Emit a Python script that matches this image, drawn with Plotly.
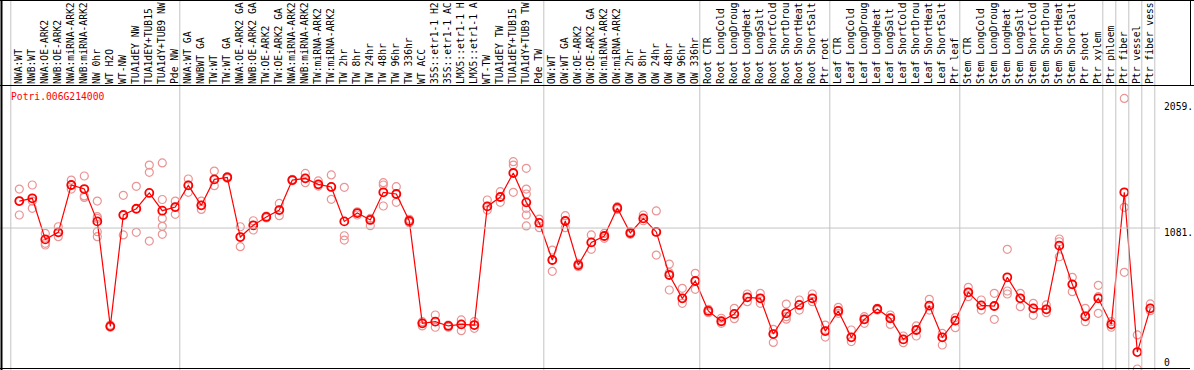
import plotly.graph_objects as go

gene_id = "Potri.006G214000"

categories = [
    "NWA:WT", "NWB:WT", "NWA:OE-ARK2", "NWB:OE-ARK2", "NWA:miRNA-ARK2", "NWB:miRNA-ARK2",
    "NW 0hr", "WT H2O", "WT-NW", "TUA1dEY NW", "TUA1dEY+TUB15", "TUA1dY+TUB9 NW", "Pde NW",
    "NWA:WT GA", "NWBWT GA", "TW:WT", "TW:WT GA", "NWA:OE-ARK2 GA", "NWB:OE-ARK2 GA",
    "TW:OE-ARK2", "TW:OE-ARK2 GA", "NWA:miRNA-ARK2", "NWB:miRNA-ARK2", "TW:miRNA-ARK2",
    "TW:miRNA-ARK2", "TW 2hr", "TW 8hr", "TW 24hr", "TW 48hr", "TW 96hr", "TW 336hr",
    "WT ACC", "35S::etr1-1 H2", "35S::etr1-1 AC", "LMX5::etr1-1 H", "LMX5::etr1-1 A",
    "WT-TW", "TUA1dEY TW", "TUA1dEY+TUB15", "TUA1dY+TUB9 TW", "Pde TW",
    "OW:WT", "OW:WT GA", "OW:OE-ARK2", "OW:OE-ARK2 GA", "OW:miRNA-ARK2", "OW:miRNA-ARK2",
    "OW 2hr", "OW 8hr", "OW 24hr", "OW 48hr", "OW 96hr", "OW 336hr",
    "Root CTR", "Root LongCold", "Root LongDroug", "Root LongHeat", "Root LongSalt",
    "Root ShortCold", "Root ShortDrou", "Root ShortHeat", "Root ShortSalt", "Ptr root",
    "Leaf CTR", "Leaf LongCold", "Leaf LongDroug", "Leaf LongHeat", "Leaf LongSalt",
    "Leaf ShortCold", "Leaf ShortDrou", "Leaf ShortHeat", "Leaf ShortSalt", "Ptr leaf",
    "Stem CTR", "Stem LongCold", "Stem LongDroug", "Stem LongHeat", "Stem LongSalt",
    "Stem ShortCold", "Stem ShortDrou", "Stem ShortHeat", "Stem ShortSalt", "Ptr shoot",
    "Ptr xylem", "Ptr phloem", "Ptr fiber", "Ptr vessel", "Ptr fiber vess",
]

mean_values = [
    1288, 1309, 994, 1048, 1411, 1380, 1132, 327, 1181, 1229, 1350, 1214, 1242,
    1408, 1255, 1454, 1470, 1012, 1102, 1166, 1219, 1449, 1462, 1416, 1396, 1132,
    1196, 1143, 1355, 1342, 1135, 350, 363, 330, 342, 337, 1247, 1319, 1503, 1278, 1120,
    836, 1135, 797, 971, 1020, 1235, 1043, 1155, 1051, 721, 542, 675,
    445, 366, 422, 550, 542, 268, 427, 491, 542, 291,
    445, 243, 381, 460, 389, 227, 299, 486, 243, 371,
    588, 488, 483, 703, 542, 465, 458, 946, 649, 404, 542,
    342, 1355, 130, 465,
]

replicate_values = [
    [1380, 1181, 1288], [1411, 1232, 1288], [1040, 964, 951], [1091, 1015, 1048],
    [1449, 1380, 1411], [1480, 1327, 1316], [1288, 1168, 1155, 1053, 1015],
    [337, 327, 320], [1332, 1028, 1181], [1401, 1048, 1229], [1564, 1508, 981],
    [1580, 1300, 1155, 1094, 1033], [1288, 1186, 1242],
    [1457, 1355, 1411], [1288, 1224, 1255], [1518, 1406, 1454], [1475, 1470, 1462],
    [1091, 938, 1012], [1137, 1066, 1102], [1173, 1166, 1158], [1270, 1176, 1219],
    [1449, 1444, 1454], [1500, 1429, 1462], [1442, 1403, 1416], [1488, 1301, 1396],
    [1393, 1022, 989], [1181, 1196, 1206], [1099, 1143, 1155], [1429, 1411, 1250],
    [1398, 1278, 1342], [1148, 1135, 1122], [363, 330, 350], [414, 320, 363],
    [320, 330, 337], [376, 294, 342], [363, 312, 337], [1296, 1219, 1247],
    [1360, 1278, 1319], [1590, 1564, 1355], [1539, 1380, 1342, 1232, 1181, 1097],
    [1150, 1084, 1120],
    [912, 749, 836], [1176, 1084, 1135], [810, 797, 785], [1028, 918, 971],
    [1040, 1002, 1020], [1245, 1235, 1224], [1053, 1043, 1033], [1181, 1155, 1137],
    [1212, 874, 1051], [805, 739, 606], [619, 504, 542], [734, 611, 675],
    [458, 445, 432], [389, 350, 366], [465, 386, 422], [575, 516, 550], [580, 542, 504],
    [304, 204, 268], [498, 401, 382], [529, 491, 452], [575, 542, 516], [337, 245, 291],
    [473, 427, 445], [299, 210, 243], [401, 350, 381], [465, 460, 452], [414, 342, 389],
    [253, 202, 227], [330, 253, 299], [534, 452, 486], [273, 184, 243], [394, 317, 371],
    [626, 555, 588], [529, 452, 488], [580, 381, 483], [918, 598, 575], [580, 478, 542],
    [504, 412, 465], [491, 432, 458], [997, 976, 861], [703, 593, 649], [465, 363, 404],
    [642, 555, 427], [363, 320, 342], [2075, 1240, 741], [261, 0], [499, 447, 465],
]

group_starts = [0, 13, 41, 53, 63, 73, 84, 85, 86, 87, 88]
ytick_vals = [0, 1081, 2059]
ytick_text = ["0", "1081.", "2059."]

W, H, TOP = 1194, 370, 85
FONT = "DejaVu Sans Mono"


def py(p):
    """pixel row (from top) -> paper y"""
    return (H - p) / (H - TOP)


x_idx = list(range(len(categories)))
rep_x, rep_y = [], []
for i, reps in enumerate(replicate_values):
    for v in reps:
        rep_x.append(i)
        rep_y.append(v)

fig = go.Figure()
fig.add_trace(go.Scatter(
    x=rep_x, y=rep_y, mode="markers",
    marker=dict(symbol="circle-open", size=8, color="#eb9494", line=dict(width=1.2, color="#eb9494")),
    hoverinfo="skip", showlegend=False,
))
fig.add_trace(go.Scatter(
    x=x_idx, y=mean_values, mode="lines+markers",
    line=dict(color="#ff0000", width=1.2),
    marker=dict(symbol="circle-open", size=8, color="#ff0000", line=dict(width=1.8, color="#ff0000")),
    showlegend=False,
))

shapes = []
for b in group_starts:
    shapes.append(dict(type="line", xref="x", yref="paper", x0=b - 0.654, x1=b - 0.654,
                       y0=0, y1=py(0), line=dict(color="#c4c4c4", width=1)))
shapes.append(dict(type="line", xref="paper", yref="y", x0=0, x1=1160 / W, y0=1081, y1=1081,
                   line=dict(color="#c4c4c4", width=1)))
blk = dict(color="#000000", width=1)
shapes += [
    dict(type="line", xref="paper", yref="paper", x0=1.5 / W, x1=1.5 / W, y0=py(370), y1=py(0),
         line=dict(color="#000000", width=2)),
    dict(type="line", xref="paper", yref="paper", x0=0, x1=1, y0=py(0.5), y1=py(0.5), line=blk),
    dict(type="line", xref="paper", yref="paper", x0=0, x1=1, y0=py(85.5), y1=py(85.5), line=blk),
    dict(type="line", xref="paper", yref="paper", x0=0, x1=1190 / W, y0=py(368.5), y1=py(368.5), line=blk),
    dict(type="line", xref="paper", yref="paper", x0=1190.5 / W, x1=1190.5 / W, y0=py(85.5), y1=py(0),
         line=blk),
]

annotations = [dict(text=gene_id, xref="paper", yref="paper", x=9 / W, y=py(96),
                    xanchor="left", yanchor="middle", showarrow=False,
                    font=dict(family=FONT, size=9.7, color="#ff0000"))]
yshifts = [7, -4.5, -5.5]
for v, t, s in zip(ytick_vals, ytick_text, yshifts):
    annotations.append(dict(text=t, xref="paper", yref="y", x=1162 / W, y=v, yshift=s,
                            xanchor="left", yanchor="middle", showarrow=False,
                            font=dict(family=FONT, size=9.7, color="#000000")))

x0 = -19.3 / 13
fig.update_layout(
    width=W, height=H, autosize=False,
    margin=dict(l=0, r=0, t=TOP, b=0, pad=0),
    paper_bgcolor="white", plot_bgcolor="white",
    xaxis=dict(range=[x0, x0 + W / 13], tickmode="array", tickvals=x_idx, ticktext=categories,
               side="top", tickangle=-90, showgrid=False, zeroline=False, showline=False,
               ticks="", tickfont=dict(family=FONT, size=9.7, color="#000000"), fixedrange=True),
    yaxis=dict(range=[-1 / 0.1304, 284 / 0.1304], showgrid=False, zeroline=False, showline=False,
               showticklabels=False, ticks="", fixedrange=True),
    shapes=shapes, annotations=annotations, showlegend=False,
)

fig.write_html("out.html", config={"displayModeBar": False},
               post_script="document.body.style.margin='0';document.body.style.overflow='hidden';")
